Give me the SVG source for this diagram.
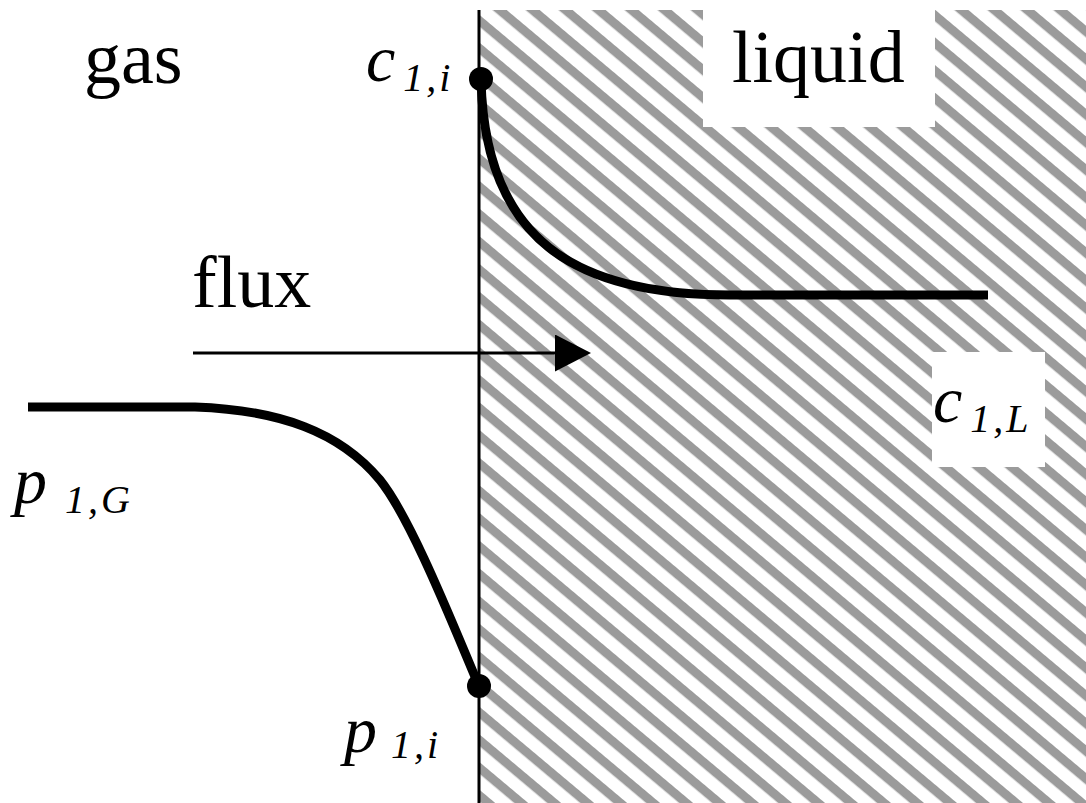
<svg xmlns="http://www.w3.org/2000/svg" width="1086" height="803" viewBox="0 0 1086 803">
<style>
.lbl{font-family:"Liberation Serif","Times New Roman",serif;fill:#000}
.main{font-size:74px}
.var{font-style:italic;font-size:66px}
.sub{font-style:italic;font-size:40px;letter-spacing:3px}
.curve{fill:none;stroke:#000;stroke-width:9;stroke-linecap:butt}
</style>
<defs>
<pattern id="hatch" patternUnits="userSpaceOnUse" width="20" height="21.2" patternTransform="rotate(40)">
<rect x="0" y="0" width="20" height="9" fill="#9b9b9b"/>
</pattern>
<marker id="arrow" markerWidth="36" markerHeight="37" refX="0" refY="18.5" orient="auto" markerUnits="userSpaceOnUse">
<path d="M0,0 L36,18.5 L0,37 Z" fill="#000"/>
</marker>
</defs>
<rect width="1086" height="803" fill="#fff"/>
<g id="liquid-region">
<rect x="480" y="10" width="606" height="793" fill="url(#hatch)"/>
<rect x="703" y="0" width="232" height="127" fill="#fff"/>
<rect x="932" y="352" width="113" height="115" fill="#fff"/>
</g>
<g id="interface">
<line x1="479" y1="10" x2="479" y2="803" stroke="#000" stroke-width="3"/>
</g>
<g id="connectors">
<line x1="193" y1="353" x2="555" y2="353" stroke="#000" stroke-width="3" marker-end="url(#arrow)"/>
</g>
<g id="gas-profile">
<path class="curve" d="M28,407 L195,407 C280,410 340,432 380,480 C412,520 455,630 479,686"/>
<circle cx="479" cy="686" r="12" fill="#000"/>
</g>
<g id="liquid-profile">
<path class="curve" d="M481,80 C485,240 575,295 730,295 L988,295"/>
<circle cx="481" cy="79" r="12" fill="#000"/>
</g>
<g id="label-gas"><text class="lbl main" x="84" y="83">gas</text></g>
<g id="label-liquid"><text class="lbl main" x="732" y="82">liquid</text></g>
<g id="label-flux"><text class="lbl main" x="192" y="307">flux</text></g>
<g id="label-c1i"><text class="lbl" x="366" y="81"><tspan class="var">c</tspan><tspan class="sub" dx="8" dy="10">1,i</tspan></text></g>
<g id="label-c1L"><text class="lbl" x="933" y="422"><tspan class="var">c</tspan><tspan class="sub" dx="8" dy="10">1,L</tspan></text></g>
<g id="label-p1G"><text class="lbl" x="14" y="503"><tspan class="var">p</tspan><tspan class="sub" dx="18" dy="10">1,G</tspan></text></g>
<g id="label-p1i"><text class="lbl" x="344" y="752"><tspan class="var">p</tspan><tspan class="sub" dx="14" dy="6">1,i</tspan></text></g>
</svg>
